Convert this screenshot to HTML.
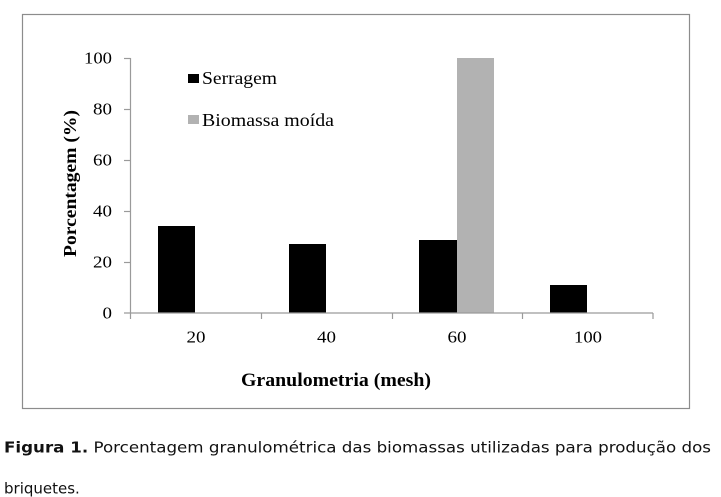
<!DOCTYPE html>
<html>
<head>
<meta charset="utf-8">
<style>
  html, body { margin:0; padding:0; background:#fff; }
  body { width:721px; height:497px; overflow:hidden; }
  svg { display:block; }
  .serif { font-family: "Liberation Serif", "Times New Roman", serif; }
  .sans { font-family: "DejaVu Sans", Verdana, "Liberation Sans", sans-serif; }
</style>
</head>
<body>
<svg width="721" height="497" viewBox="0 0 721 497" xmlns="http://www.w3.org/2000/svg">
  <rect x="0" y="0" width="721" height="497" fill="#fff"/>
  <!-- outer border -->
  <rect x="22.5" y="14.5" width="667" height="394" fill="none" stroke="#8c8c8c" stroke-width="1.2"/>

  <!-- bars -->
  <rect x="158" y="226" width="37" height="87" fill="#000"/>
  <rect x="289" y="244" width="37" height="69" fill="#000"/>
  <rect x="419" y="240" width="38" height="73" fill="#000"/>
  <rect x="457" y="58" width="37" height="255" fill="#b2b2b2"/>
  <rect x="550" y="285" width="37" height="28" fill="#000"/>

  <!-- axes -->
  <g stroke="#9a9a9a" stroke-width="1.2" fill="none">
    <line x1="130.5" y1="58" x2="130.5" y2="319"/>
    <line x1="124" y1="313" x2="653" y2="313"/>
    <line x1="124" y1="58.5" x2="130.5" y2="58.5"/>
    <line x1="124" y1="109.5" x2="130.5" y2="109.5"/>
    <line x1="124" y1="160.5" x2="130.5" y2="160.5"/>
    <line x1="124" y1="211.5" x2="130.5" y2="211.5"/>
    <line x1="124" y1="262.5" x2="130.5" y2="262.5"/>
    <line x1="261.5" y1="313" x2="261.5" y2="319"/>
    <line x1="392.5" y1="313" x2="392.5" y2="319"/>
    <line x1="522.5" y1="313" x2="522.5" y2="319"/>
    <line x1="653" y1="313" x2="653" y2="319"/>
  </g>

  <!-- y tick labels -->
  <g class="serif" font-size="17" fill="#000" lengthAdjust="spacingAndGlyphs">
    <text x="84" y="63.5" textLength="28" lengthAdjust="spacingAndGlyphs">100</text>
    <text x="93" y="114.5" textLength="19" lengthAdjust="spacingAndGlyphs">80</text>
    <text x="93" y="165.5" textLength="19" lengthAdjust="spacingAndGlyphs">60</text>
    <text x="93" y="216.5" textLength="19" lengthAdjust="spacingAndGlyphs">40</text>
    <text x="93" y="267.5" textLength="19" lengthAdjust="spacingAndGlyphs">20</text>
    <text x="102.5" y="318.5" textLength="9.5" lengthAdjust="spacingAndGlyphs">0</text>
  </g>

  <!-- x tick labels -->
  <g class="serif" font-size="17" fill="#000">
    <text x="186.5" y="342.7" textLength="19" lengthAdjust="spacingAndGlyphs">20</text>
    <text x="317" y="342.7" textLength="19" lengthAdjust="spacingAndGlyphs">40</text>
    <text x="447.5" y="342.7" textLength="19" lengthAdjust="spacingAndGlyphs">60</text>
    <text x="574" y="342.7" textLength="28" lengthAdjust="spacingAndGlyphs">100</text>
  </g>

  <!-- axis titles -->
  <text class="serif" x="241" y="386" font-size="19" font-weight="bold" textLength="190" lengthAdjust="spacingAndGlyphs">Granulometria (mesh)</text>
  <text class="serif" transform="translate(76,257) rotate(-90)" x="0" y="0" font-size="18" font-weight="bold" textLength="147" lengthAdjust="spacingAndGlyphs">Porcentagem (%)</text>

  <!-- legend -->
  <rect x="188" y="74" width="11" height="9" fill="#000"/>
  <text class="serif" x="202" y="84" font-size="18" textLength="75" lengthAdjust="spacingAndGlyphs">Serragem</text>
  <rect x="188" y="115" width="11" height="9" fill="#b2b2b2"/>
  <text class="serif" x="202" y="126" font-size="18" textLength="132" lengthAdjust="spacingAndGlyphs">Biomassa moída</text>

  <!-- caption -->
  <text class="sans" x="4" y="452.7" font-size="15" fill="#111" textLength="707" lengthAdjust="spacingAndGlyphs"><tspan font-weight="bold">Figura 1.</tspan> Porcentagem granulométrica das biomassas utilizadas para produção dos</text>
  <text class="sans" x="4" y="493.3" font-size="15" fill="#111">briquetes.</text>
</svg>
</body>
</html>
